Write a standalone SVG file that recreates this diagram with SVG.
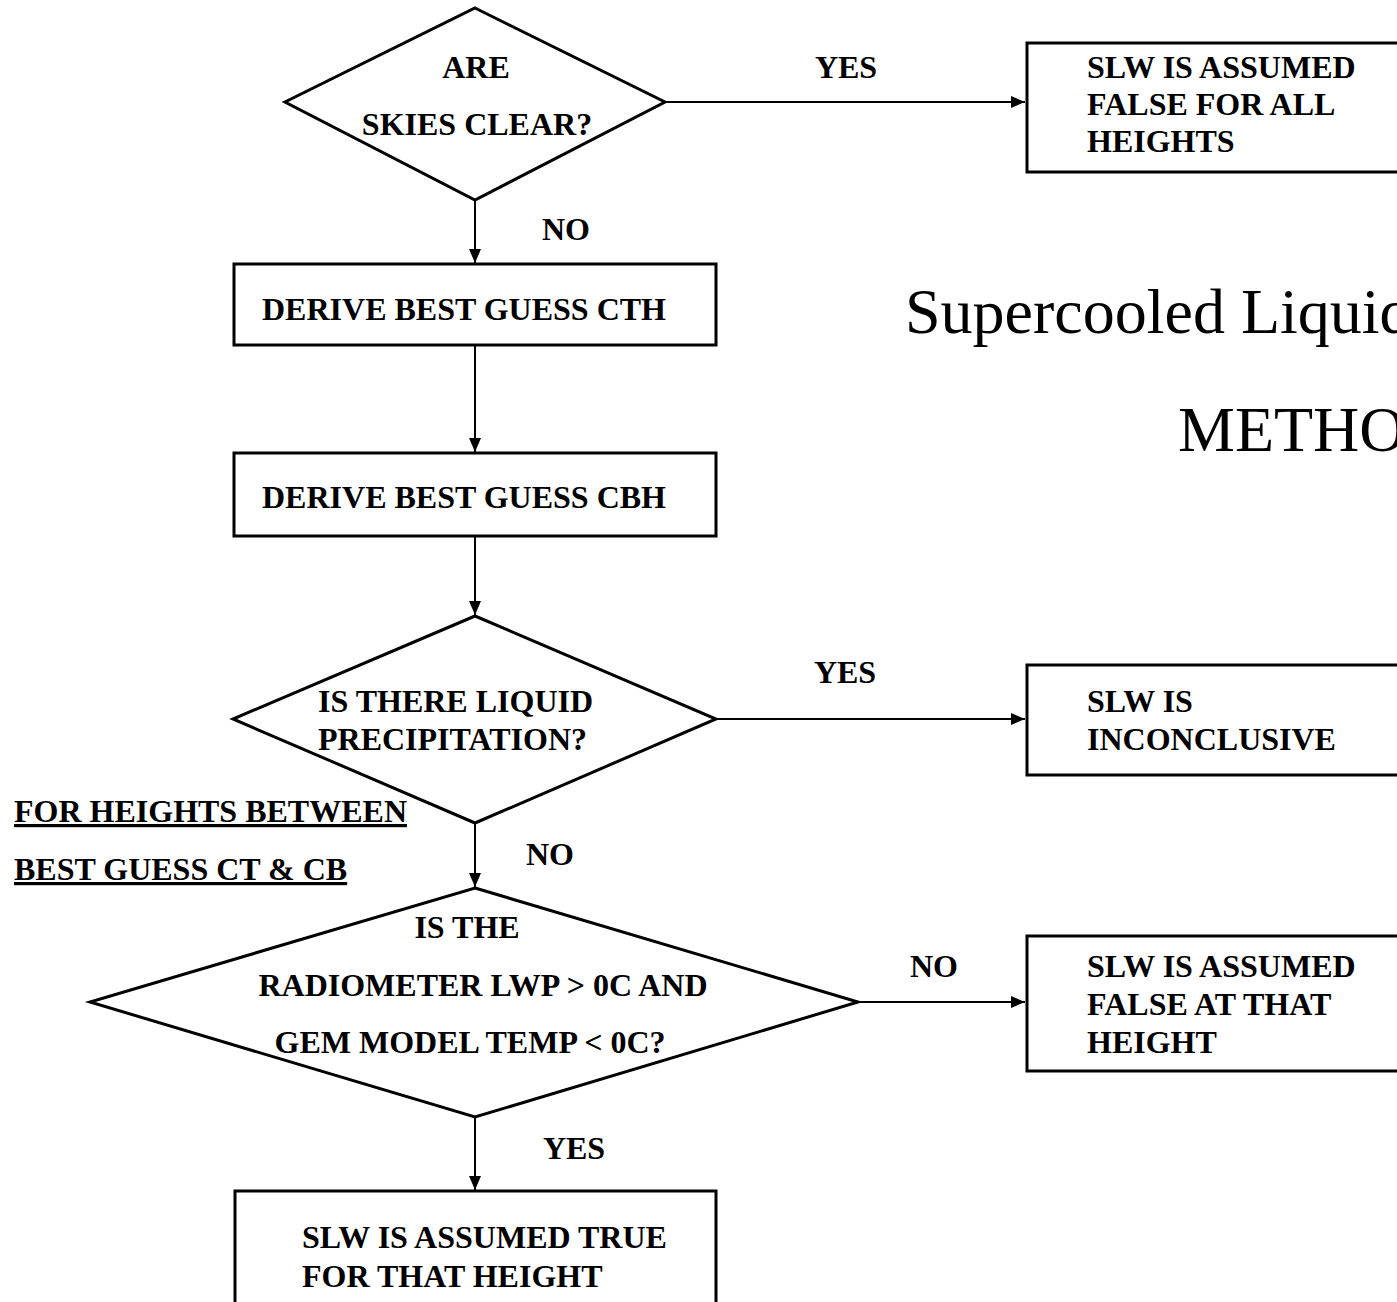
<svg xmlns="http://www.w3.org/2000/svg" width="1397" height="1302" viewBox="0 0 1397 1302">
<style>
.shape{fill:#fff;stroke:#000;stroke-width:3}
.t{font-family:"Liberation Serif","Times New Roman",serif;font-weight:bold;font-size:32px;fill:#000}
.c{text-anchor:middle}
.u{text-decoration:underline}
.title{font-family:"Liberation Serif","Times New Roman",serif;font-size:64px;fill:#000}
.conn{stroke:#000;stroke-width:2;fill:none;marker-end:url(#ah)}
</style>
<defs>
<marker id="ah" viewBox="0 0 14 12" refX="14" refY="6" markerWidth="14" markerHeight="12" markerUnits="userSpaceOnUse" orient="auto">
<path d="M0,0 L14,6 L0,12 Z" fill="#000"/>
</marker>
</defs>
<rect width="1397" height="1302" fill="#fff"/>
<g id="connectors">
<line class="conn" x1="665" y1="102" x2="1025" y2="102"/>
<line class="conn" x1="475" y1="200" x2="475" y2="263"/>
<line class="conn" x1="475" y1="345" x2="475" y2="452"/>
<line class="conn" x1="475" y1="536" x2="475" y2="615"/>
<line class="conn" x1="716" y1="719" x2="1025" y2="719"/>
<line class="conn" x1="475" y1="823" x2="475" y2="887"/>
<line class="conn" x1="858" y1="1002" x2="1025" y2="1002"/>
<line class="conn" x1="475" y1="1117" x2="475" y2="1190"/>
<text class="t c" x="846" y="78">YES</text>
<text class="t c" x="566" y="240">NO</text>
<text class="t c" x="845" y="683">YES</text>
<text class="t c" x="550" y="865">NO</text>
<text class="t c" x="934" y="977">NO</text>
<text class="t c" x="574" y="1159">YES</text>
</g>
<g id="d1">
<polygon class="shape" points="475,8 665,102 475,200 285,102"/>
<text class="t c" x="476" y="78">ARE</text>
<text class="t c" x="477" y="135">SKIES CLEAR?</text>
</g>
<g id="b1">
<rect class="shape" x="1027" y="43" width="420" height="129"/>
<text class="t" x="1087" y="78">SLW IS ASSUMED</text>
<text class="t" x="1087" y="115">FALSE FOR ALL</text>
<text class="t" x="1087" y="152">HEIGHTS</text>
</g>
<g id="b2">
<rect class="shape" x="234" y="264" width="482" height="81"/>
<text class="t" x="262" y="320">DERIVE BEST GUESS CTH</text>
</g>
<g id="b3">
<rect class="shape" x="234" y="453" width="482" height="83"/>
<text class="t" x="262" y="508">DERIVE BEST GUESS CBH</text>
</g>
<g id="title">
<text class="title" x="905" y="333">Supercooled Liquid</text>
<text class="title" x="1178" y="451">METHO</text>
</g>
<g id="d2">
<polygon class="shape" points="475,616 716,719 475,823 233,719"/>
<text class="t" x="318" y="712">IS THERE LIQUID</text>
<text class="t" x="318" y="750">PRECIPITATION?</text>
</g>
<g id="b4">
<rect class="shape" x="1027" y="665" width="420" height="110"/>
<text class="t" x="1087" y="712">SLW IS</text>
<text class="t" x="1087" y="750">INCONCLUSIVE</text>
</g>
<g id="note">
<text class="t u" x="14" y="822">FOR HEIGHTS BETWEEN</text>
<text class="t u" x="14" y="880">BEST GUESS CT &amp; CB</text>
</g>
<g id="d3">
<polygon class="shape" points="475,888 858,1002 475,1117 90,1002"/>
<text class="t c" x="467" y="938">IS THE</text>
<text class="t c" x="483" y="996">RADIOMETER LWP &gt; 0C AND</text>
<text class="t c" x="470" y="1053">GEM MODEL TEMP &lt; 0C?</text>
</g>
<g id="b5">
<rect class="shape" x="1027" y="936" width="420" height="135"/>
<text class="t" x="1087" y="977">SLW IS ASSUMED</text>
<text class="t" x="1087" y="1015">FALSE AT THAT</text>
<text class="t" x="1087" y="1053">HEIGHT</text>
</g>
<g id="b6">
<rect class="shape" x="235" y="1191" width="481" height="150"/>
<text class="t" x="302" y="1248">SLW IS ASSUMED TRUE</text>
<text class="t" x="302" y="1287">FOR THAT HEIGHT</text>
</g>
</svg>
